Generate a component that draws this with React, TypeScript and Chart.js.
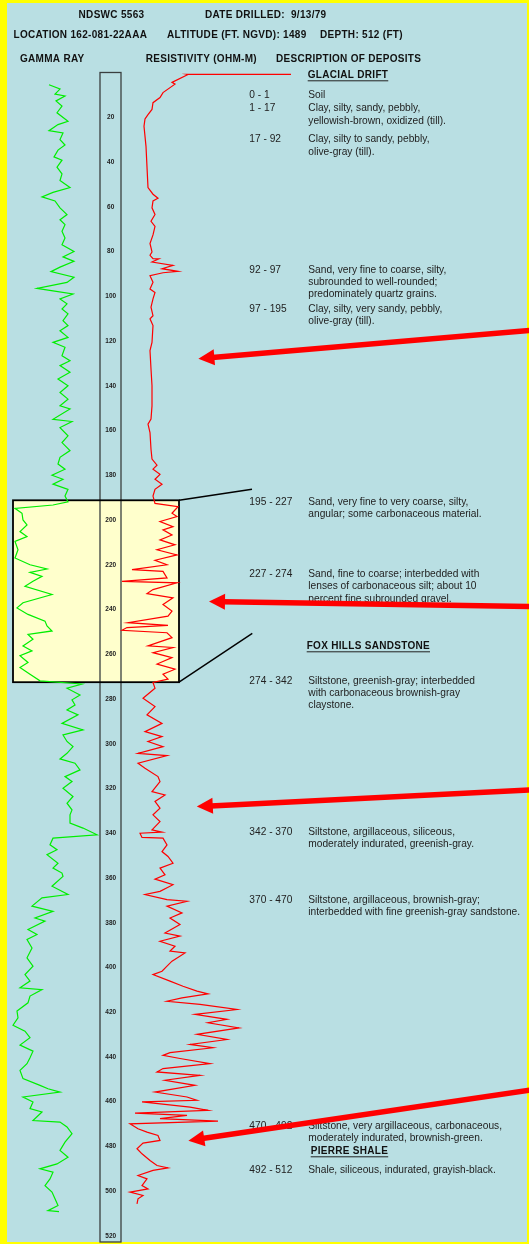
import { useEffect, useRef } from "react";
import { Chart, registerables } from "chart.js";
Chart.register(...registerables);

// ---------- DATA ----------
const depthTickLabels = [20, 40, 60, 80, 100, 120, 140, 160, 180, 200, 220, 240, 260, 280, 300, 320, 340, 360, 380, 400, 420, 440, 460, 480, 500, 520];

// Gamma ray (API units) vs depth (ft)
const gammaDepth = [
  5.5, 7.4, 9.7, 10.5, 12.7, 15, 18, 21.8, 23.3, 26,
  27, 30, 32.4, 34.7, 37.7, 39.2, 42.3, 45.3, 48.3, 51.4,
  53.6, 55.6, 57.4, 60.5, 63.5, 65.8, 68, 71, 74, 77,
  80, 82.4, 84.4, 87, 89, 91.5, 93.8, 96.5, 97.6, 99,
  101.2, 103.4, 105.7, 107.9, 110.9, 113.1, 115.4, 118.4, 120.6, 122.8,
  126.6, 128.8, 131, 134, 137, 140, 143, 146, 149, 150.4,
  155, 156, 158.7, 162.4, 165.4, 169, 172, 175, 177.3, 180,
  181.8, 184, 186.3, 189.3, 191.9, 193.3, 194.8, 197, 200, 202.2,
  205.2, 207.4, 209.6, 213.3, 217, 220, 221.9, 223.4, 225.2, 227.4,
  229.6, 233.3, 237, 239.3, 242.2, 245.2, 247.4, 249.6, 251.1, 253.3,
  256.3, 258.5, 260.7, 263.7, 265.9, 268.9, 271.9, 273.3, 275.2, 278.2,
  280.4, 282.7, 284.9, 287.1, 290.9, 293.8, 296.1, 299, 301.3, 304.3,
  306.8, 308.7, 311.7, 314.7, 316.9, 319.9, 323.6, 326.6, 329.6, 331.8,
  335.5, 337.7, 340.7, 342.2, 345.2, 347.4, 349.6, 353.4, 355.6, 357.8,
  359.3, 363.7, 367.4, 368.9, 372.6, 374.9, 377.9, 379.3, 383, 385.3,
  387.5, 391.3, 395.7, 399.4, 403.2, 406.1, 409.1, 409.9, 412.8, 415.8,
  419.5, 422.5, 425.8, 428.5, 431.4, 434.7, 437.4, 440.4, 443, 446,
  449.7, 452.7, 454.2, 455.7, 457.9, 460.1, 463.1, 464.6, 468.4, 469.1,
  471.3, 474.3, 478.1, 481.8, 484.8, 487.8, 490, 491.5, 494.5, 497.5,
  500.4, 503.4, 506.4, 508.7, 509.1,
];
const gammaValue = [
  78, 100, 90, 110, 92, 104, 94, 116, 96, 78,
  106, 100, 110, 96, 88, 104, 94, 104, 100, 120,
  86, 64, 90, 100, 114, 100, 110, 104, 110, 104,
  128, 106, 128, 100, 82, 128, 114, 54, 86, 126,
  100, 114, 104, 116, 106, 116, 100, 116, 86, 110,
  104, 120, 100, 120, 96, 116, 100, 116, 100, 120,
  86, 124, 100, 116, 104, 120, 100, 96, 110, 84,
  106, 86, 116, 110, 116, 86, 10, 24, 26, 34,
  20, 34, 10, 16, 10, 40, 74, 40, 64, 46,
  30, 84, 26, 14, 36, 70, 74, 84, 36, 46,
  26, 44, 20, 36, 20, 40, 60, 144, 114, 140,
  124, 130, 114, 136, 104, 146, 106, 114, 126, 114,
  100, 130, 140, 110, 124, 106, 126, 114, 124, 120,
  120, 146, 174, 86, 80, 94, 74, 96, 86, 104,
  106, 84, 116, 64, 44, 86, 50, 70, 36, 54,
  34, 44, 34, 46, 30, 40, 20, 64, 40, 36,
  14, 16, 6, 30, 40, 20, 46, 40, 34, 20,
  26, 60, 76, 100, 26, 46, 40, 64, 46, 100,
  114, 124, 110, 100, 116, 94, 60, 86, 80, 70,
  84, 90, 96, 76, 98,
];

// Resistivity (ohm-m) vs depth (ft)
const resDepth = [
  0.8, 0.8, 0.9, 4.4, 5.2, 9, 11.2, 13.5, 16.5, 18.8,
  20.8, 24, 33, 42.3, 51.4, 54.4, 56.2, 57.4, 60.5, 63.5,
  66.5, 68.8, 72.6, 76.4, 80.2, 81.7, 83.2, 83.3, 84.7, 86.2,
  87.7, 88.9, 89.5, 90.8, 93.8, 96.8, 98.3, 101.2, 104.9, 108.7,
  110.1, 113.1, 120.6, 124.3, 132.5, 140, 149, 154.9, 157.2, 160.9,
  168.4, 172.8, 175.5, 177.3, 179.6, 181.8, 184, 186.3, 189.3, 192.6,
  194.1, 197, 198.5, 200.7, 203, 204.4, 206.7, 208.9, 211.1, 213.3,
  215.6, 218, 220, 222.2, 223, 225.9, 227.4, 228.1, 231.1, 232.9,
  234.8, 237.8, 240.7, 243, 245.9, 247.1, 248.1, 249.3, 250.4, 252.6,
  256.3, 257, 259.3, 261.5, 264.4, 266.7, 268.9, 271.1, 272.6, 275.2,
  279.7, 283.4, 287.1, 290.9, 294.6, 296.8, 299, 301.3, 304.3, 305.3,
  308.7, 311, 314.7, 316.9, 321.4, 322.9, 325.8, 328.8, 331.8, 334.8,
  338.5, 339.5, 340, 341.9, 342.2, 345.2, 348.2, 350.4, 353.4, 355.6,
  358.6, 360.5, 363, 366, 367.4, 369.7, 370.4, 372.6, 375.6, 377.9,
  380.8, 384.6, 386, 388.3, 390.5, 392.7, 393.5, 397.2, 399.4, 401.7,
  403.2, 406.1, 408.4, 410.6, 411.8, 413.6, 415.1, 416.5, 418.8, 421,
  423.2, 424.7, 427, 429.9, 432.2, 434.4, 435.9, 438.1, 439.3, 440.7,
  443, 445.2, 446.7, 448.2, 450.4, 452.7, 455.7, 457.9, 459.4, 460.1,
  462.4, 463.9, 465.1, 466.1, 467.6, 468.7, 469.9, 472.1, 473.6, 475.1,
  477.3, 478.5, 481, 483.3, 486.3, 488.5, 489.6, 490.7, 493, 494.5,
  497.5, 499, 500.4, 501.9, 503.4, 505.7,
];
const resValue = [
  85.5, 33.5, 34, 26, 27.5, 21.5, 20, 16.5, 16, 14,
  12.5, 12, 13, 13.5, 14, 16.5, 19, 16.5, 16, 17.5,
  15.5, 17.5, 16.5, 15, 16, 15, 16.5, 19.5, 16, 26.5,
  21, 29, 21.5, 15, 16.5, 15, 17.5, 16.5, 15.5, 16.5,
  15, 16.5, 16, 15, 15.5, 16, 16, 15.5, 14, 15,
  15.5, 16, 18.5, 16.5, 20, 17.5, 21, 17.5, 16.5, 17.5,
  29, 26, 28.5, 20, 26.5, 21.5, 26, 20, 27.5, 18.5,
  28.5, 17.5, 23.5, 6, 21.5, 23.5, 1, 28.5, 16.5, 13.5,
  26.5, 21.5, 26, 24, 4, 24, 3.5, 1, 23.5, 26,
  14, 26.5, 16.5, 26, 18.5, 27.5, 21.5, 24, 16.5, 17.5,
  11.5, 17.5, 13.5, 21, 12.5, 21, 14, 21.5, 9, 23.5,
  9, 12.5, 19, 20, 16, 22.5, 17.5, 20, 16.5, 20,
  16, 21, 10, 11, 21.5, 23.5, 21, 24, 26.5, 20,
  22.5, 17.5, 26.5, 20, 12.5, 23.5, 33.5, 23.5, 31, 25,
  30, 22.5, 30, 20, 27.5, 25, 32.5, 26, 23.5, 21,
  16.5, 25, 31.5, 38.5, 44, 31, 23.5, 40, 58.5, 37.5,
  53.5, 44, 59.5, 38.5, 53.5, 35, 46.5, 25, 21.5, 30,
  45, 21.5, 18.5, 40, 22.5, 37.5, 17.5, 33.5, 38.5, 11,
  35, 44, 7.5, 33.5, 20, 49, 5, 9, 13.5, 19,
  20, 11.5, 8.5, 11, 15, 18.5, 24, 16.5, 9, 13.5,
  11, 14, 5, 11.5, 9, 8.5,
];

// Highlighted interval (ft)
const highlightTopDepth = 191.2;
const highlightBottomDepth = 272.5;
const columnBottomDepth = 522.7;

// Arrows: tail / tip in (resistivity units, depth)
const arrowTailDepth = [115.3, 238.7, 320.7, 454.8];
const arrowTipDepth = [127.9, 236.4, 328.1, 477.4];
const arrowTailRes = [205, 205, 205, 205];
const arrowTipRes = [39.2, 44.5, 38.4, 34.2];

// Texts
const headerTexts = ["NDSWC 5563", "DATE DRILLED:  9/13/79", "LOCATION 162-081-22AAA", "ALTITUDE (FT. NGVD): 1489", "DEPTH: 512 (FT)", "GAMMA RAY", "RESISTIVITY (OHM-M)", "DESCRIPTION OF DEPOSITS"];
const formationNames = ["GLACIAL DRIFT", "FOX HILLS SANDSTONE", "PIERRE SHALE"];
const intervalLabels = ["0 - 1", "1 - 17", "17 - 92", "92 - 97", "97 - 195", "195 - 227", "227 - 274", "274 - 342", "342 - 370", "370 - 470", "470 - 492", "492 - 512"];
const intervalDescriptions = [
  ["Soil"],
  ["Clay, silty, sandy, pebbly,", "yellowish-brown, oxidized (till)."],
  ["Clay, silty to sandy, pebbly,", "olive-gray (till)."],
  ["Sand, very fine to coarse, silty,", "subrounded to well-rounded;", "predominately quartz grains."],
  ["Clay, silty, very sandy, pebbly,", "olive-gray (till)."],
  ["Sand, very fine to very coarse, silty,", "angular; some carbonaceous material."],
  ["Sand, fine to coarse; interbedded with", "lenses of carbonaceous silt; about 10", "percent fine subrounded gravel."],
  ["Siltstone, greenish-gray; interbedded", "with carbonaceous brownish-gray", "claystone."],
  ["Siltstone, argillaceous, siliceous,", "moderately indurated, greenish-gray."],
  ["Siltstone, argillaceous, brownish-gray;", "interbedded with fine greenish-gray sandstone."],
  ["Siltstone, very argillaceous, carbonaceous,", "moderately indurated, brownish-green."],
  ["Shale, siliceous, indurated, grayish-black."],
];

// ---------- LAYOUT (pixels) ----------
const headerPos = [[78.6, 15], [205, 15], [13.5, 35], [167, 35], [320, 35], [20, 59.5], [145.7, 59.5], [276, 59.5]];
const formationPos = [[307.7, 75], [306.7, 646], [310.7, 1151]];
const intervalY = [95, 108.5, 139.5, 270, 309, 502.3, 574.3, 681, 832.3, 899.7, 1125.7, 1170];
const FONT = "'Liberation Sans', Arial, Helvetica, sans-serif";

const decor = {
  id: "decor",
  beforeDatasetsDraw(chart: any) {
    const { ctx, width, height } = chart;
    const y = chart.scales.y;
    ctx.save();
    ctx.fillStyle = "#ffff00";
    ctx.fillRect(0, 0, width, height);
    ctx.fillStyle = "#b9dfe3";
    ctx.fillRect(7, 3, 520, 1239);

    const yt = y.getPixelForValue(highlightTopDepth);
    const yb = y.getPixelForValue(highlightBottomDepth);
    ctx.fillStyle = "#ffffcc";
    ctx.fillRect(13, yt, 166, yb - yt);

    // depth column
    const c0 = y.getPixelForValue(0);
    const c1 = y.getPixelForValue(columnBottomDepth);
    ctx.strokeStyle = "#3a3f40";
    ctx.lineWidth = 1.3;
    ctx.strokeRect(100, c0, 21, c1 - c0);

    ctx.fillStyle = "#222";
    ctx.font = "bold 6.5px " + FONT;
    ctx.textAlign = "center";
    ctx.textBaseline = "middle";
    depthTickLabels.forEach((d) => ctx.fillText(String(d), 110.7, y.getPixelForValue(d)));

    // highlight frame + connectors
    ctx.strokeStyle = "#000";
    ctx.lineWidth = 1.8;
    ctx.strokeRect(13, yt, 166, yb - yt);
    ctx.lineWidth = 1.4;
    ctx.beginPath();
    ctx.moveTo(179, yt);
    ctx.lineTo(252, 489.3);
    ctx.moveTo(179, yb);
    ctx.lineTo(252.3, 633.3);
    ctx.stroke();
    ctx.restore();
  },
  afterDatasetsDraw(chart: any) {
    const { ctx } = chart;
    const y = chart.scales.y;
    const xr = chart.scales.xr;
    ctx.save();
    ctx.fillStyle = "#111";
    ctx.textAlign = "left";
    ctx.textBaseline = "middle";
    ctx.font = "bold 10px " + FONT;
    (ctx as any).letterSpacing = "0.3px";
    headerTexts.forEach((t, i) => ctx.fillText(t, headerPos[i][0], headerPos[i][1]));
    ctx.strokeStyle = "#222";
    ctx.lineWidth = 1;
    formationNames.forEach((t, i) => {
      const [fx, fy] = formationPos[i];
      ctx.fillText(t, fx, fy);
      const w = ctx.measureText(t).width;
      ctx.beginPath();
      ctx.moveTo(fx, fy + 5.8);
      ctx.lineTo(fx + w, fy + 5.8);
      ctx.stroke();
    });
    (ctx as any).letterSpacing = "0px";
    ctx.fillStyle = "#222";
    ctx.font = "10.2px " + FONT;
    intervalLabels.forEach((t, i) => {
      ctx.fillText(t, 249.3, intervalY[i]);
      intervalDescriptions[i].forEach((line, j) => ctx.fillText(line, 308.3, intervalY[i] + j * 12.2));
    });

    // arrows
    ctx.fillStyle = "#ff0000";
    ctx.strokeStyle = "#ff0000";
    arrowTipDepth.forEach((_, i) => {
      const sx = xr.getPixelForValue(arrowTailRes[i]);
      const sy = y.getPixelForValue(arrowTailDepth[i]);
      const tx = xr.getPixelForValue(arrowTipRes[i]);
      const ty = y.getPixelForValue(arrowTipDepth[i]);
      const len = Math.hypot(tx - sx, ty - sy);
      const ux = (tx - sx) / len, uy = (ty - sy) / len;
      const nx = -uy, ny = ux;
      const hl = 16, hw = 8;
      const bx = tx - ux * hl, by = ty - uy * hl;
      ctx.lineWidth = 5.5;
      ctx.lineCap = "butt";
      ctx.beginPath();
      ctx.moveTo(sx, sy);
      ctx.lineTo(bx + ux * 2, by + uy * 2);
      ctx.stroke();
      ctx.beginPath();
      ctx.moveTo(tx, ty);
      ctx.lineTo(bx + nx * hw, by + ny * hw);
      ctx.lineTo(bx - nx * hw, by - ny * hw);
      ctx.closePath();
      ctx.fill();
    });
    ctx.restore();
  },
};

export default function App() {
  const ref = useRef<HTMLCanvasElement>(null);
  useEffect(() => {
    document.body.style.margin = "0";
    const chart = new Chart(ref.current as HTMLCanvasElement, {
      type: "scatter",
      data: {
        datasets: [
          {
            label: "Gamma ray",
            data: gammaDepth.map((d, i) => ({ x: gammaValue[i], y: d })),
            xAxisID: "x",
            yAxisID: "y",
            showLine: true,
            borderColor: "#00ee00",
            borderWidth: 1.2,
            pointRadius: 0,
            tension: 0,
          },
          {
            label: "Resistivity",
            data: resDepth.map((d, i) => ({ x: resValue[i], y: d })),
            xAxisID: "xr",
            yAxisID: "y",
            showLine: true,
            borderColor: "#ff0000",
            borderWidth: 1.2,
            pointRadius: 0,
            tension: 0,
          },
        ],
      },
      options: {
        animation: false,
        responsive: false,
        devicePixelRatio: 1,
        events: [],
        layout: { padding: 0 },
        plugins: { legend: { display: false }, tooltip: { enabled: false } },
        scales: {
          x: { type: "linear", axis: "x", min: -20, max: 1038, display: false },
          xr: { type: "linear", axis: "x", min: -60, max: 204.5, display: false },
          y: { type: "linear", min: -32.4, max: 523.6, reverse: true, display: false },
        },
      } as any,
      plugins: [decor],
    });
    return () => chart.destroy();
  }, []);
  return (
    <div style={{ width: 529, height: 1244 }}>
      <canvas ref={ref} width={529} height={1244} style={{ display: "block" }} />
    </div>
  );
}
